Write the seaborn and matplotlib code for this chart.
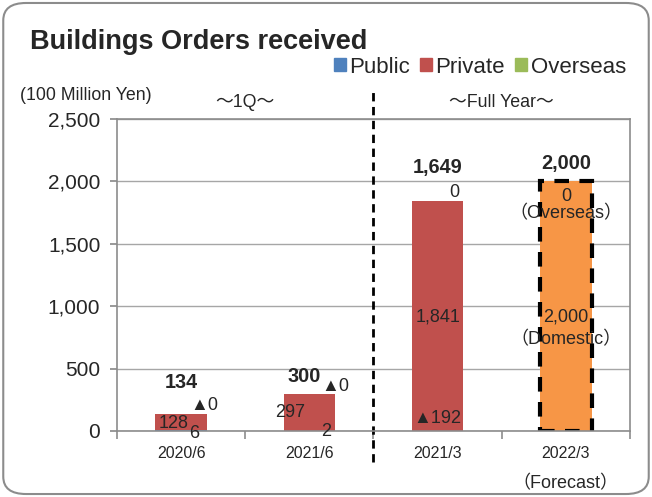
import matplotlib.pyplot as plt
import numpy as np
import pandas as pd
import seaborn as sns
from matplotlib.patches import FancyBboxPatch, Patch
from matplotlib.ticker import FuncFormatter, FixedLocator
from matplotlib.transforms import blended_transform_factory

periods = ["2020/6", "2021/6", "2021/3", "2022/3"]
public = [6, 2, -192, 0]
private = [128, 297, 1841, 0]
overseas = [0, 0, 0, 0]
domestic_forecast = [0, 0, 0, 2000]
totals = ["134", "300", "1,649", "2,000"]

C_PUBLIC = "#4F81BD"
C_PRIVATE = "#C0504D"
C_OVERSEAS = "#9BBB59"
C_FORECAST = "#F79646"

sns.set_theme(style="white")
FONT = ["Liberation Sans", "DejaVu Sans", "Noto Sans CJK JP"]
plt.rcParams["font.family"] = FONT

df = pd.DataFrame({
    "period": periods,
    "public": public,
    "private": private,
    "overseas": overseas,
    "forecast": domestic_forecast,
})
pub_pos = df["public"].clip(lower=0)
df["stack_private"] = pub_pos + df["private"]
df["stack_overseas"] = df["stack_private"] + df["overseas"]

fig = plt.figure(figsize=(6.52, 4.97), dpi=100)
ax = fig.add_axes([0.1794, 0.1328, 0.7869, 0.6278])

common = dict(x="period", order=periods, width=0.4, saturation=1, ax=ax, linewidth=0, errorbar=None)
sns.barplot(data=df, y="stack_overseas", color=C_OVERSEAS, **common)
sns.barplot(data=df, y="stack_private", color=C_PRIVATE, **common)
sns.barplot(data=df, y="public", color=C_PUBLIC, **common)
sns.barplot(data=df, y="forecast", color=C_FORECAST, **common)

# dashed outline on the forecast bar only
fc = ax.containers[-1]
for val, bar in zip(domestic_forecast, fc.patches):
    if val > 0:
        bar.set_edgecolor("black")
        bar.set_linewidth(3)
        bar.set_linestyle((0, (3.5, 2.5)))

ax.set_ylim(0, 2500)
ax.set_xlim(-0.5, 3.5)
ax.yaxis.set_major_locator(FixedLocator(np.arange(0, 2501, 500)))
ax.yaxis.set_major_formatter(FuncFormatter(lambda v, p: f"{int(v):,}"))
ax.grid(axis="y", color="#a6a6a6", linewidth=1)
ax.set_axisbelow(True)
for s in ax.spines.values():
    s.set_color("#8c8c8c")
    s.set_linewidth(1.2)
ax.set_xlabel("")
ax.set_ylabel("")
ax.tick_params(axis="y", labelsize=15, length=5, direction="out", color="#8c8c8c", left=True, pad=7)
ax.tick_params(axis="x", which="major", labelsize=11.5, length=0, pad=11)
ax.set_xticks(np.arange(-0.5, 4, 1), minor=True)
ax.tick_params(axis="x", which="minor", length=6, direction="out", color="#8c8c8c", width=1.2, bottom=True)

# data labels
labels = [
    (0, 385, totals[0], True), (0.18, 208, "▲0", False), (-0.06, 64, "128", False), (0.1, -24, "6", False),
    (0.96, 433, totals[1], True), (1.2, 353, "▲0", False), (0.85, 145, "297", False), (1.13, -8, "2", False),
    (2, 2115, totals[2], True), (2.13, 1907, "0", False), (2, 913, "1,841", False), (2, 104, "▲192", False),
    (3, 2147, totals[3], True), (3, 1875, "0", False), (3, 1739, "（Overseas）", False),
    (3, 913, "2,000", False), (3, 729, "（Domestic）", False),
]
for x, y, t, bold in labels:
    ax.text(x, y, t, ha="center", va="center", fontsize=14.3 if bold else 13,
            fontweight="bold" if bold else "normal", clip_on=False, family=FONT)

tr = blended_transform_factory(ax.transData, ax.transAxes)
ax.plot([1.5, 1.5], [-0.099, 1.099], transform=tr, color="black", lw=2,
        linestyle=(0, (3, 2)), clip_on=False)
ax.text(0.5, 1.052, "～1Q～", transform=tr, ha="center", va="center", fontsize=12.8, family=FONT)
ax.text(2.5, 1.052, "～Full Year～", transform=tr, ha="center", va="center", fontsize=12.8, family=FONT)
ax.text(3, -0.17, "（Forecast）", transform=tr, ha="center", va="center", fontsize=13, family=FONT)

fig.text(0.031, 0.807, "(100 Million Yen)", ha="left", va="center", fontsize=12.8)
fig.text(0.046, 0.915, "Buildings Orders received", ha="left", va="center", fontsize=19.5, fontweight="bold")

handles = [Patch(color=C_PUBLIC, label="Public"), Patch(color=C_PRIVATE, label="Private"),
           Patch(color=C_OVERSEAS, label="Overseas")]
fig.legend(handles=handles, loc="center right", bbox_to_anchor=(0.96, 0.865), ncol=3, frameon=False,
           fontsize=16, handlelength=0.55, handleheight=0.55, handletextpad=0.15, columnspacing=0.45,
           borderpad=0, borderaxespad=0)

box = FancyBboxPatch((0.005, 0.006), 0.99, 0.988, boxstyle="round,pad=0,rounding_size=0.035",
                     transform=fig.transFigure, facecolor="none", edgecolor="#8c8c8c", lw=1.5)
fig.patches.append(box)

fig.savefig("out.png", dpi=100)
